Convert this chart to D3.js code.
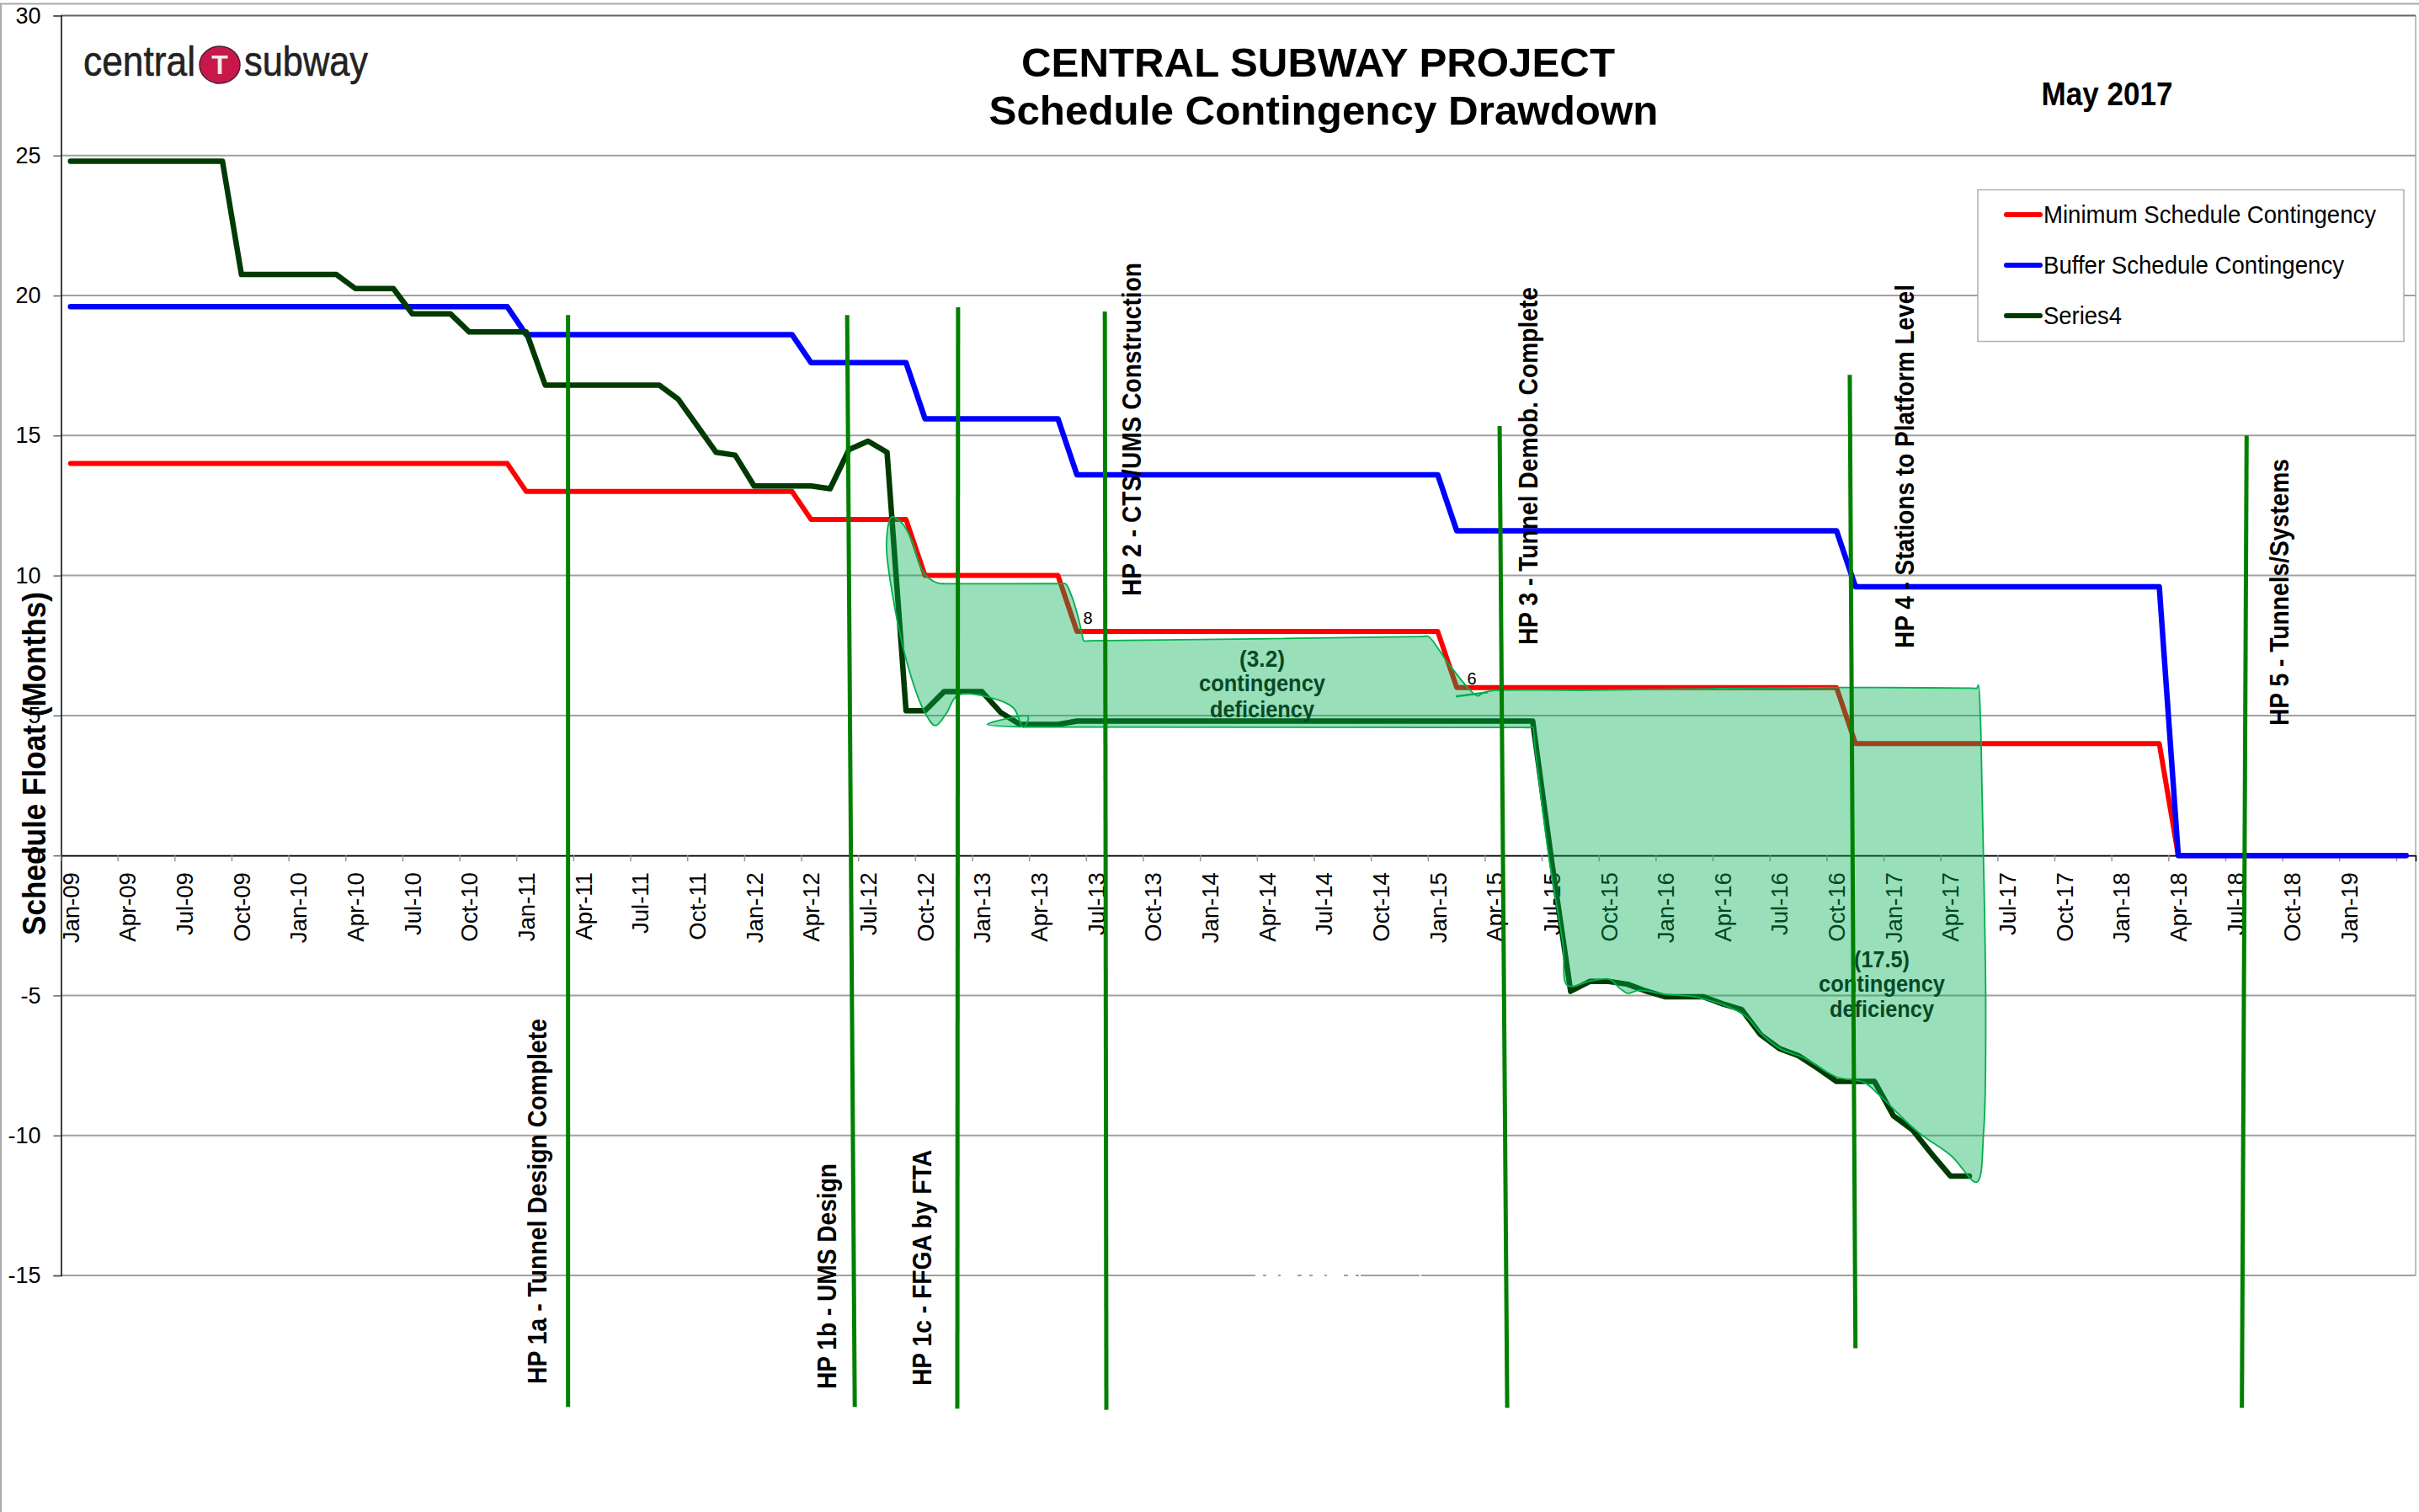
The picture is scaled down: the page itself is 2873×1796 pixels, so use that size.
<!DOCTYPE html>
<html><head><meta charset="utf-8">
<script src="https://cdn.jsdelivr.net/npm/d3@7"></script>
<style>html,body{margin:0;padding:0;background:#fff}svg{display:block}text{font-family:"Liberation Sans",Arial,sans-serif}</style>
</head><body><svg id="c" width="2873" height="1796"></svg>
<script>
const months = ["Jan","Feb","Mar","Apr","May","Jun","Jul","Aug","Sep","Oct","Nov","Dec"];
const categories = [];
for (let y = 9; y <= 19; y++) for (const m of months) { if (y === 19 && months.indexOf(m) > 3) break; categories.push(m + "-" + String(y).padStart(2, "0")); }

const minimumContingency = [14,14,14,14,14,14,14,14,14,14,14,14,14,14,14,14,14,14,14,14,14,14,14,14,
 13,13,13,13,13,13,13,13,13,13,13,13,13,13,13, 12,12,12,12,12,12, 10,10,10,10,10,10,10,10,
 8,8,8,8,8,8,8,8,8,8,8,8,8,8,8,8,8,8,8,8, 6,6,6,6,6,6,6,6,6,6,6,6,6,6,6,6,6,6,6,6,6,
 4,4,4,4,4,4,4,4,4,4,4,4,4,4,4,4,4, 0,0,0,0,0,0,0,0,0,0,0,0,0];
const bufferContingency = [19.6,19.6,19.6,19.6,19.6,19.6,19.6,19.6,19.6,19.6,19.6,19.6,19.6,19.6,19.6,19.6,19.6,19.6,19.6,19.6,19.6,19.6,19.6,19.6,
 18.6,18.6,18.6,18.6,18.6,18.6,18.6,18.6,18.6,18.6,18.6,18.6,18.6,18.6,18.6, 17.6,17.6,17.6,17.6,17.6,17.6, 15.6,15.6,15.6,15.6,15.6,15.6,15.6,15.6,
 13.6,13.6,13.6,13.6,13.6,13.6,13.6,13.6,13.6,13.6,13.6,13.6,13.6,13.6,13.6,13.6,13.6,13.6,13.6,13.6,
 11.6,11.6,11.6,11.6,11.6,11.6,11.6,11.6,11.6,11.6,11.6,11.6,11.6,11.6,11.6,11.6,11.6,11.6,11.6,11.6,11.6,
 9.6,9.6,9.6,9.6,9.6,9.6,9.6,9.6,9.6,9.6,9.6,9.6,9.6,9.6,9.6,9.6,9.6, 0,0,0,0,0,0,0,0,0,0,0,0,0];
const series4 = [24.8,24.8,24.8,24.8,24.8,24.8,24.8,24.8,24.8, 20.75,20.75,20.75,20.75,20.75,20.75, 20.25,20.25,20.25, 19.35,19.35,19.35,
 18.7,18.7,18.7,18.7, 16.8,16.8,16.8,16.8,16.8,16.8,16.8, 16.3,15.35,14.4,14.3, 13.2,13.2,13.2,13.2, 13.1,14.5,14.8,14.4,
 5.17,5.17, 5.85,5.85,5.85, 5.1, 4.68,4.68,4.68,
 4.8,4.8,4.8,4.8,4.8,4.8,4.8,4.8,4.8,4.8,4.8,4.8,4.8,4.8,4.8,4.8,4.8,4.8,4.8,4.8,4.8,4.8,4.8,4.8,4.8,
 -0.2,-4.85,-4.5,-4.5,-4.6,-4.85,-5.05,-5.05,-5.05,-5.3,-5.5,-6.4,-6.9,-7.15,-7.6,-8.07,-8.07,-8.07,-9.3,-9.8,-10.65,-11.45,-11.45];

const yTicks = [30,25,20,15,10,5,0,-5,-10,-15];
const legendNames = ["Minimum Schedule Contingency","Buffer Schedule Contingency","Series4"];

// hold points: label, month position and value at the two ends of each line
const holdLabels = ["HP 1a - Tunnel Design Complete","HP 1b - UMS Design","HP 1c - FFGA by FTA","HP 2 - CTS/UMS Construction","HP 3 - Tunnel Demob. Complete","HP 4 - Stations to Platform Level","HP 5 - Tunnels/Systems"];
const holdTopMonth = [26.2,40.9,46.74,54.47,75.26,93.7,114.6];
const holdBottomMonth = [26.2,41.3,46.7,54.55,75.66,94.0,114.35];
const holdTopValue = [19.3,19.3,19.58,19.43,15.34,17.17,15];
const holdBottomValue = [-19.7,-19.7,-19.76,-19.8,-19.73,-17.6,-19.73];

// hand-drawn deficiency outline (month position, value)
const blobMonth = [43.25,43.82,44.32,44.83,45.21,45.72,46.0, 52.1,52.39,52.72,53.1,53.3,53.36,53.7, 71.2,71.49,72.58,73.73,74.11,74.36,
 74.8,80,93,100.1,100.4,100.47,100.58,100.66,100.74,100.86,100.75,100.38,
 99.05,97.25,95.27,94.46,93,91.31,90.03,89.03,88.14,85.77,83.99,82.6,82,81.6,81.02,80.03,78.84,78.6,77.85,77.1,77,76.9,76.5,
 50.6,50.3,48.27,50.43,50.18,49.67,48.78,46.74,46.1,45.54,44.96,44.07,43.3,42.97];
const blobValue = [12.09,11.85,11.22,10.22,9.9,9.72,9.71, 9.71,9.71,9.27,8.42,7.8,7.67,7.67, 7.82,7.83,6.84,5.89,5.7,5.8,
 5.88,5.9,6,5.98,5.98,6.09,4.91,2.5,-0.03,-5.43,-9.86,-11.67,
 -10.73,-9.86,-8.57,-8.11,-7.91,-7.24,-6.9,-6.37,-5.7,-5.08,-4.96,-4.82,-4.92,-4.75,-4.42,-4.49,-4.65,-3.2,-0.03,4.0,4.58,4.57,4.57,
 4.59,4.59,4.68,4.96,4.57,5.26,5.57,5.73,5.05,4.64,5.15,6.84,9.27,11.17];
const flickMonth = [72.95,74.65];
const flickValue = [5.68,5.83];

const deficiency1 = ["(3.2)","contingency","deficiency"];
const deficiency2 = ["(17.5)","contingency","deficiency"];
const valueLabels = ["8","6"];
const valueLabelMonth = [53,73];
const valueLabelDx = [13,18];
const valueLabelDy = [-9,-4];

// ---------- layout and style ----------
const L = 72.5, R = 2869, T = 18.5, B = 1515;
const svg = d3.select("#c");
const x = d3.scaleBand().domain(categories).range([L, R]);
const xm = d3.scaleLinear().domain([-0.5, categories.length - 0.5]).range([L, R]);
const y = d3.scaleLinear().domain([30, -15]).range([T, B]);
const GREEN = "#008000", BAD = "#00b050";

// outer frame
svg.append("path").attr("d", "M1 1796V4.5H2873").attr("fill", "none").attr("stroke", "#aaa").attr("stroke-width", 2);
svg.append("line").attr("x1", R).attr("x2", R).attr("y1", T).attr("y2", B).attr("stroke", "#aaa").attr("stroke-width", 1.5);

// grid
svg.append("g").selectAll("line").data(yTicks).join("line")
  .attr("x1", L).attr("x2", R).attr("y1", d => y(d)).attr("y2", d => y(d))
  .attr("stroke", d => d === 30 ? "#666" : "#a0a0a0").attr("stroke-width", 2);

// artefact on the -15 gridline
svg.append("line").attr("x1", 1491).attr("x2", 1616).attr("y1", y(-15)).attr("y2", y(-15))
  .attr("stroke", "#fff").attr("stroke-width", 3).attr("stroke-dasharray", "9 4 14 3 20 5");
svg.append("line").attr("x1", 1686).attr("x2", 1688).attr("y1", y(-15)).attr("y2", y(-15))
  .attr("stroke", "#fff").attr("stroke-width", 3);

// y axis
const gy = svg.append("g").attr("transform", `translate(${L},0)`)
  .call(d3.axisLeft(y).tickValues(yTicks).tickSize(9).tickPadding(15).tickFormat(d => String(d)));
gy.select(".domain").attr("stroke", "#000").attr("stroke-width", 1.5);
gy.selectAll(".tick line").attr("stroke", "#666").attr("stroke-width", 1.5);
gy.selectAll("text").attr("font-size", 27).attr("font-family", "Liberation Sans").attr("fill", "#000");

// x axis
const lastLabelled = "Jan-19";
const gx = svg.append("g").attr("transform", `translate(0,${y(0)})`)
  .call(d3.axisBottom(x).tickValues(categories.filter((d, i) => i % 3 === 0)).tickSize(7)
    .tickFormat(d => categories.indexOf(d) > categories.indexOf(lastLabelled) ? "" : d));
gx.select(".domain").attr("stroke", "#000").attr("stroke-width", 1.5);
gx.selectAll(".tick line").attr("x1", -x.bandwidth() / 2).attr("x2", -x.bandwidth() / 2).attr("stroke", "#999").attr("stroke-width", 1.5);
gx.selectAll("text").attr("font-size", 27.5).attr("font-family", "Liberation Sans").attr("fill", "#000")
  .attr("text-anchor", "end").attr("dy", 0).attr("y", 0)
  .attr("transform", "translate(10,20) rotate(-90)");

// axis title
svg.append("text").attr("transform", "translate(53.5,907) rotate(-90)").attr("text-anchor", "middle")
  .attr("font-size", 38).attr("font-weight", 700).attr("textLength", 408).attr("lengthAdjust", "spacingAndGlyphs")
  .text("Schedule Float (Months)");

// series
const line = d3.line().x((d, i) => x(categories[i]) + x.bandwidth() / 2).y(d => y(d));
const seriesValues = [minimumContingency, bufferContingency, series4];
const seriesColors = ["#ff0000", "#0000ff", "#013a03"];
const seriesWidths = [6, 6.5, 6.5];
svg.append("g").selectAll("path").data(seriesValues).join("path")
  .attr("d", d => line(d)).attr("fill", "none")
  .attr("stroke", (d, i) => seriesColors[i]).attr("stroke-width", (d, i) => seriesWidths[i])
  .attr("stroke-linecap", "round").attr("stroke-linejoin", "round");

// small value labels
svg.append("g").selectAll("text").data(valueLabels).join("text")
  .attr("x", (d, i) => xm(valueLabelMonth[i]) + valueLabelDx[i]).attr("y", (d, i) => y(minimumContingency[valueLabelMonth[i]]) + valueLabelDy[i])
  .attr("text-anchor", "middle").attr("font-size", 20).text(d => d);

// hold point labels
const holdBaseX = [649, 993, 1106, 1355, 1826, 2273, 2718];
const holdBaseY = [1644, 1650, 1646, 708, 766, 770, 862];
const holdLen = [434, 268, 280, 396, 425, 432, 317];
svg.append("g").selectAll("text").data(holdLabels).join("text")
  .attr("transform", (d, i) => `translate(${holdBaseX[i]},${holdBaseY[i]}) rotate(-90)`)
  .attr("font-size", 31).attr("font-weight", 700)
  .attr("textLength", (d, i) => holdLen[i]).attr("lengthAdjust", "spacingAndGlyphs").text(d => d);

// deficiency area
const blobLine = d3.line().x((d, i) => xm(blobMonth[i])).y(d => y(d)).curve(d3.curveCatmullRomClosed.alpha(0.5));
svg.append("path").attr("d", blobLine(blobValue)).attr("fill", BAD).attr("fill-opacity", 0.4)
  .attr("stroke", BAD).attr("stroke-width", 1.8).attr("stroke-linejoin", "round");
svg.append("path").attr("d", d3.line().x((d, i) => xm(flickMonth[i])).y(d => y(d))(flickValue))
  .attr("fill", "none").attr("stroke", BAD).attr("stroke-width", 2.5);

// deficiency text
function block(lines, cx, ys, size, len) {
  svg.append("g").selectAll("text").data(lines).join("text")
    .attr("x", cx).attr("y", (d, i) => ys[i]).attr("text-anchor", "middle")
    .attr("font-size", size).attr("font-weight", 700).attr("fill", "#054a27")
    .attr("textLength", (d, i) => len[i]).attr("lengthAdjust", "spacingAndGlyphs").text(d => d);
}
block(deficiency1, 1499, [792, 821, 852], 27, [54, 150, 124]);
block(deficiency2, 2235, [1149, 1178, 1208], 27, [66, 150, 124]);

// hold point lines
svg.append("g").selectAll("line").data(holdLabels).join("line")
  .attr("x1", (d, i) => xm(holdTopMonth[i])).attr("y1", (d, i) => y(holdTopValue[i]))
  .attr("x2", (d, i) => xm(holdBottomMonth[i])).attr("y2", (d, i) => y(holdBottomValue[i]))
  .attr("stroke", GREEN).attr("stroke-width", 5);

// titles
function label(s, px, py, size, len, anchor) {
  svg.append("text").attr("x", px).attr("y", py).attr("text-anchor", anchor || "middle")
    .attr("font-size", size).attr("font-weight", 700)
    .attr("textLength", len).attr("lengthAdjust", "spacingAndGlyphs").text(s);
}
label("CENTRAL SUBWAY PROJECT", 1565.5, 91, 49, 705);
label("Schedule Contingency Drawdown", 1572, 148, 49, 795);
label("May 2017", 2502.5, 125, 38, 156);

// logo
const logo = svg.append("g");
logo.append("text").attr("x", 99).attr("y", 90).attr("font-size", 50).attr("fill", "#222")
  .attr("stroke", "#222").attr("stroke-width", 0.6)
  .attr("textLength", 133).attr("lengthAdjust", "spacingAndGlyphs").text("central");
logo.append("ellipse").attr("cx", 261).attr("cy", 77).attr("rx", 24).attr("ry", 22)
  .attr("fill", "#c8184a").attr("stroke", "#4a2030").attr("stroke-width", 1.5);
logo.append("text").attr("x", 261).attr("y", 88).attr("text-anchor", "middle").attr("font-size", 32)
  .attr("font-weight", 700).attr("fill", "#f4e6ea").text("T");
logo.append("text").attr("x", 290).attr("y", 90).attr("font-size", 50).attr("fill", "#222")
  .attr("stroke", "#222").attr("stroke-width", 0.6)
  .attr("textLength", 147).attr("lengthAdjust", "spacingAndGlyphs").text("subway");

// legend
const lg = svg.append("g");
lg.append("rect").attr("x", 2349).attr("y", 225.5).attr("width", 506).attr("height", 180)
  .attr("fill", "#fff").attr("stroke", "#b0b0b0").attr("stroke-width", 1.5);
const legendLen = [395, 357, 93];
const rows = lg.selectAll("g").data(legendNames).join("g").attr("transform", (d, i) => `translate(0,${255 + i * 60})`);
rows.append("line").attr("x1", 2383).attr("x2", 2423).attr("stroke", (d, i) => seriesColors[i])
  .attr("stroke-width", 6).attr("stroke-linecap", "round");
rows.append("text").attr("x", 2427).attr("y", 10).attr("font-size", 29)
  .attr("textLength", (d, i) => legendLen[i]).attr("lengthAdjust", "spacingAndGlyphs").text(d => d);
</script></body></html>
